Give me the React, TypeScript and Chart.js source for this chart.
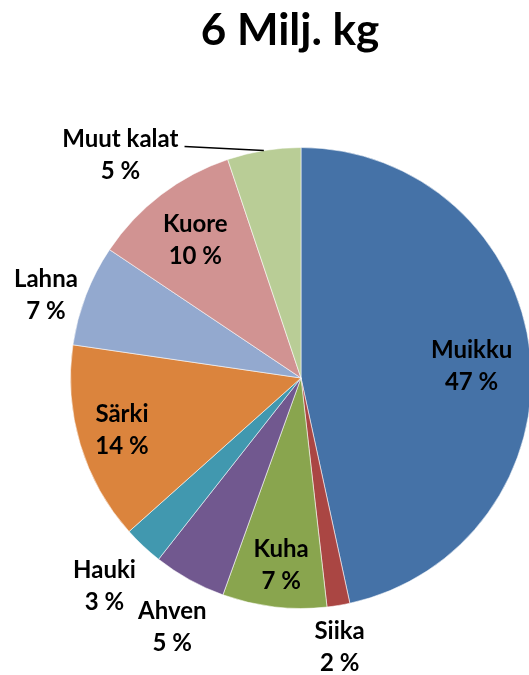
import React, { useEffect, useRef } from "react";
import { Chart, registerables } from "chart.js";

Chart.register(...registerables);

const TITLE = "6 Milj. kg";
const categories = ["Muikku", "Siika", "Kuha", "Ahven", "Hauki", "Särki", "Lahna", "Kuore", "Muut kalat"];
const shares = [46.6, 1.6, 7.3, 5.1, 2.8, 13.9, 7.1, 10.45, 5.15];
const colors = ["#4572A7", "#AA4643", "#89A54E", "#71588F", "#4198AF", "#DB843D", "#93A9CF", "#D19392", "#B9CD96"];

// label placement: radial factor (of outer radius) and angular offset (deg) from slice mid-angle
const labelRadius = [0.742, 1.181, 0.818, 1.218, 1.243, 0.809, 1.164, 0.752, 1.243];
const labelAngleOffset = [2.1, 1.2, -0.6, -1.7, 0.1, 0.5, -3.0, -0.2, -29.8];
const leaderLine = [false, false, false, false, false, false, false, false, true];

const FONT = "Lato, 'Open Sans', sans-serif";

const labelPlugin = {
  id: "pieLabels",
  afterDatasetsDraw(chart: any) {
    const ctx: CanvasRenderingContext2D = chart.ctx;
    const meta = chart.getDatasetMeta(0);
    const data: number[] = chart.data.datasets[0].data;
    const total = data.reduce((a, b) => a + b, 0);
    ctx.save();
    ctx.fillStyle = "#000";
    ctx.font = `bold 24px ${FONT}`;
    ctx.textAlign = "center";
    ctx.textBaseline = "middle";
    meta.data.forEach((arc: any, i: number) => {
      const { x, y, startAngle, endAngle, outerRadius } = arc.getProps(
        ["x", "y", "startAngle", "endAngle", "outerRadius"],
        true
      );
      const mid = (startAngle + endAngle) / 2;
      const a = mid + (labelAngleOffset[i] * Math.PI) / 180;
      const r = outerRadius * labelRadius[i];
      const lx = x + Math.cos(a) * r;
      const ly = y + Math.sin(a) * r;
      const line1 = chart.data.labels[i];
      const line2 = Math.round((data[i] / total) * 100) + " %";
      ctx.fillText(line1, lx, ly - 16);
      ctx.fillText(line2, lx, ly + 16);
      if (leaderLine[i]) {
        const w = ctx.measureText(line1).width;
        ctx.beginPath();
        ctx.strokeStyle = "#000";
        ctx.lineWidth = 1.5;
        ctx.moveTo(lx + w / 2 + 6, ly - 9);
        ctx.lineTo(x + Math.cos(mid) * outerRadius, y + Math.sin(mid) * outerRadius);
        ctx.stroke();
      }
    });
    // title
    ctx.font = `bold 44px ${FONT}`;
    ctx.textBaseline = "alphabetic";
    ctx.fillText(TITLE, 290, 45);
    ctx.restore();
  },
};

export default function App() {
  const ref = useRef<HTMLCanvasElement | null>(null);
  useEffect(() => {
    if (!ref.current) return;
    const chart = new Chart(ref.current, {
      type: "pie",
      data: {
        labels: categories,
        datasets: [
          {
            data: shares,
            backgroundColor: colors,
            borderColor: "rgba(255,255,255,0.55)",
            borderWidth: 1,
          },
        ],
      },
      options: {
        responsive: false,
        animation: false,
        layout: { padding: { left: 70, right: 70, top: 147, bottom: 66 } },
        plugins: {
          legend: { display: false },
          tooltip: { enabled: false },
          title: { display: false },
        },
      },
      plugins: [labelPlugin],
    });
    return () => chart.destroy();
  }, []);
  return (
    <div style={{ position: "absolute", left: 0, top: 0, width: 529, height: 675, overflow: "hidden", background: "#fff" }}>
      <canvas ref={ref} width={602} height={675} style={{ display: "block" }} />
    </div>
  );
}
